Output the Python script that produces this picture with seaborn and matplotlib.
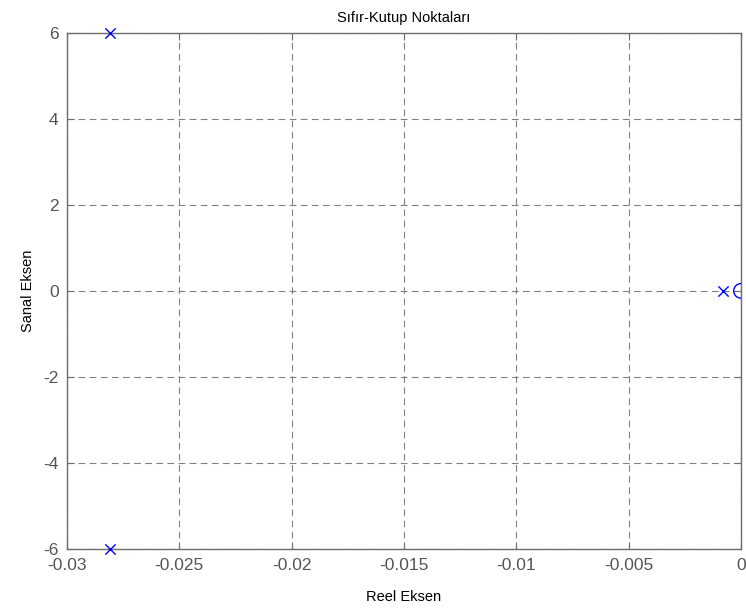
import matplotlib
matplotlib.use("Agg")
import matplotlib.pyplot as plt
import seaborn as sns
import pandas as pd

# === Datos: kutuplar ve sıfırlar ===
pole_re = [-0.0281, -0.0281, -0.00082]
pole_im = [6.0, -6.0, 0.0]
zero_re = [0.0]
zero_im = [0.0]

x_ticks = [-0.03, -0.025, -0.02, -0.015, -0.01, -0.005, 0]
x_tick_labels = ["-0.03", "-0.025", "-0.02", "-0.015", "-0.01", "-0.005", "0"]
y_ticks = [-6, -4, -2, 0, 2, 4, 6]

poles = pd.DataFrame({"re": pole_re, "im": pole_im})
zeros = pd.DataFrame({"re": zero_re, "im": zero_im})

sns.set_style("white")
plt.rcParams["font.family"] = ["Liberation Sans", "DejaVu Sans"]
plt.rcParams["axes.unicode_minus"] = False

fig = plt.figure(figsize=(7.46, 6.08), dpi=100)
ax = fig.add_axes([0.0898, 0.0975, 0.9035, 0.8482])

sns.scatterplot(data=poles, x="re", y="im", marker="x", s=55, color="blue",
                linewidth=1.0, ax=ax, clip_on=False, zorder=5)
sns.scatterplot(data=zeros, x="re", y="im", marker="o", s=110, facecolors="none",
                edgecolor="blue", linewidth=1.0, ax=ax, zorder=5)

ax.set_xlim(-0.03, 0)
ax.set_ylim(-6, 6)
ax.set_xticks(x_ticks)
ax.set_xticklabels(x_tick_labels)
ax.set_yticks(y_ticks)
ax.grid(True, linestyle=(0, (6, 4)), color="#808080", linewidth=0.8)
ax.set_axisbelow(True)

for sp in ax.spines.values():
    sp.set_color("#6e6e6e")
    sp.set_linewidth(1.0)
ax.tick_params(direction="in", length=5, colors="#6e6e6e", labelcolor="#555555",
               labelsize=12.5, top=True, right=True, bottom=True, left=True)
ax.tick_params(axis="x", pad=7)
ax.tick_params(axis="y", pad=6)

ax.set_xlabel("Reel Eksen", fontsize=10.5, color="black", labelpad=12)
ax.set_ylabel("Sanal Eksen", fontsize=10.5, color="black", labelpad=6)
ax.set_title("Sıfır-Kutup Noktaları", fontsize=10.5, color="black", pad=8)

fig.savefig("out.png", dpi=100)
